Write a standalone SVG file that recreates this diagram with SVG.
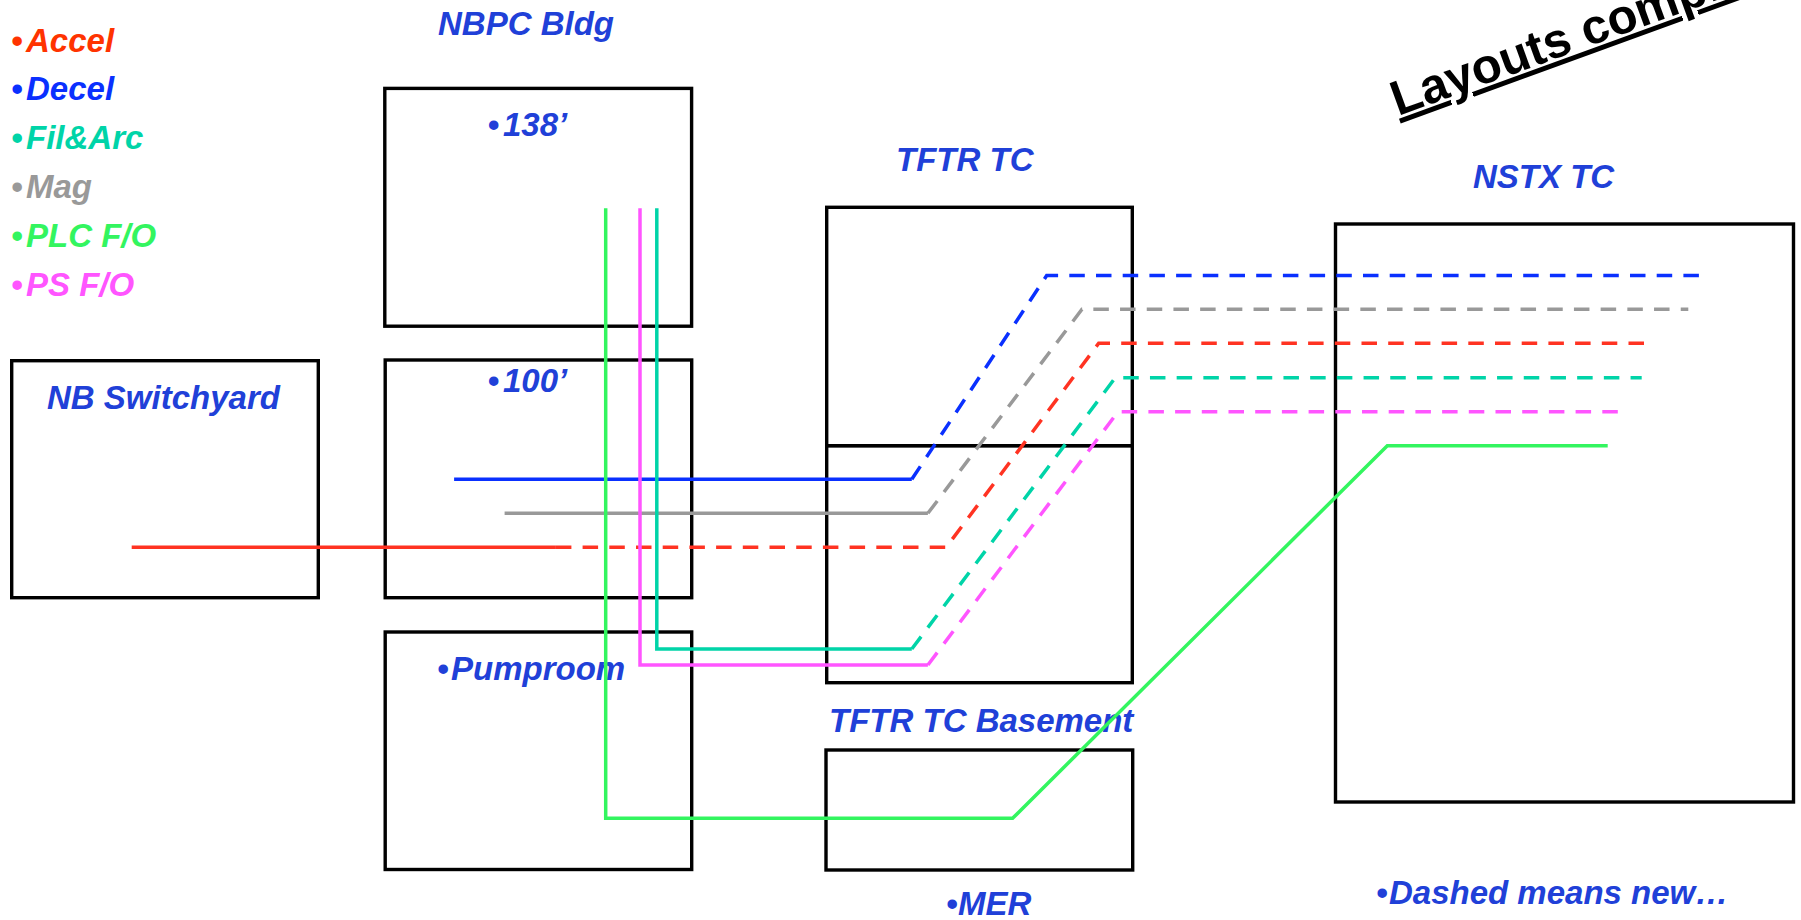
<svg xmlns="http://www.w3.org/2000/svg" width="1801" height="920" viewBox="0 0 1801 920">
<style>
  text { font-family: "Liberation Sans", Arial, Helvetica, sans-serif; font-weight: bold; font-style: italic; font-size: 33px; }
  .lbl { fill: #2040D8; }
  .box { fill: none; stroke: #000; stroke-width: 3.4; }
  .ln { fill: none; stroke-width: 3.5; stroke-linejoin: miter; }
  .dash { stroke-dasharray: 15.5 11.2; }
  .red { stroke: #FF3322; }
  .blue { stroke: #0A30FF; }
  .teal { stroke: #00D4A8; }
  .gray { stroke: #999999; }
  .green { stroke: #33F55F; }
  .mag { stroke: #FF55FF; }
</style>
<rect width="1801" height="920" fill="#fff"/>

<g id="legend">
  <text x="11" y="52.3" fill="#FF3300">•<tspan x="26">Accel</tspan></text>
  <text x="11" y="100" fill="#0A30FF">•<tspan x="26">Decel</tspan></text>
  <text x="11" y="149.3" fill="#00D4A8">•<tspan x="26">Fil&amp;Arc</tspan></text>
  <text x="11" y="198.3" fill="#999999">•<tspan x="26">Mag</tspan></text>
  <text x="11" y="246.7" fill="#33F55F">•<tspan x="26">PLC F/O</tspan></text>
  <text x="11" y="296" fill="#FF55FF">•<tspan x="26">PS F/O</tspan></text>
</g>

<g id="title">
  <text x="1398" y="116" transform="rotate(-20 1398 116)" style="font-style:normal;font-size:49px" fill="#000" text-decoration="underline">Layouts completed</text>
</g>

<g id="nbpc-title">
  <text class="lbl" x="438" y="35">NBPC Bldg</text>
</g>

<g id="node-138">
  <rect class="box" x="384.8" y="88.4" width="306.8" height="237.8"/>
  <text class="lbl" x="487.5" y="136">•<tspan x="503">138’</tspan></text>
</g>

<g id="node-100">
  <rect class="box" x="385.2" y="360" width="306.5" height="237.7"/>
  <text class="lbl" x="487.5" y="391.7">•<tspan x="503">100’</tspan></text>
</g>

<g id="node-pumproom">
  <rect class="box" x="385.2" y="632" width="306.5" height="237.5"/>
  <text class="lbl" x="437" y="680">•<tspan x="451">Pumproom</tspan></text>
</g>

<g id="node-switchyard">
  <rect class="box" x="11.7" y="360.7" width="306.6" height="237"/>
  <text class="lbl" x="47" y="409">NB Switchyard</text>
</g>

<g id="node-tftr">
  <text class="lbl" x="896" y="171">TFTR TC</text>
  <rect class="box" x="826.7" y="207.3" width="305.6" height="238.4"/>
  <rect class="box" x="826.7" y="445.7" width="305.6" height="237"/>
</g>

<g id="node-basement">
  <text class="lbl" x="829" y="731.7">TFTR TC Basement</text>
  <rect class="box" x="826" y="750" width="306.7" height="120"/>
  <text class="lbl" x="946" y="915">•<tspan x="958">MER</tspan></text>
</g>

<g id="node-nstx">
  <text class="lbl" x="1473" y="188.3">NSTX TC</text>
  <rect class="box" x="1335.5" y="224" width="458" height="578"/>
</g>

<g id="note">
  <text class="lbl" x="1376" y="904">•<tspan x="1389">Dashed means new…</tspan></text>
</g>

<g id="connectors">
  <!-- Accel -->
  <polyline class="ln red" points="131.7,547.3 555.9,547.3"/>
  <polyline class="ln red dash" points="555.9,547.3 946.2,547.3 1098.7,343.3 1651,343.3"/>
  <!-- Decel -->
  <polyline class="ln blue" points="454.1,479.3 911.8,479.3"/>
  <polyline class="ln blue dash" points="911.8,479.3 1046.7,275.5 1708.3,275.5"/>
  <!-- Mag -->
  <polyline class="ln gray" points="504.6,513.3 927.9,513.3"/>
  <polyline class="ln gray dash" points="927.9,513.3 1082,309.3 1688.3,309.3"/>
  <!-- Fil&Arc -->
  <polyline class="ln teal" points="656.8,208.3 656.8,649 911.8,649"/>
  <polyline class="ln teal dash" points="911.8,649 1115.3,377.7 1641.7,377.7"/>
  <!-- PS F/O -->
  <polyline class="ln mag" points="640,208.3 640,665 927.9,665"/>
  <polyline class="ln mag dash" points="927.9,665 1118,411.7 1624.3,411.7"/>
  <!-- PLC F/O -->
  <polyline class="ln green" points="605.7,208.3 605.7,818.3 1012.6,818.3 1387.3,445.7 1607.7,445.7"/>
</g>
</svg>
